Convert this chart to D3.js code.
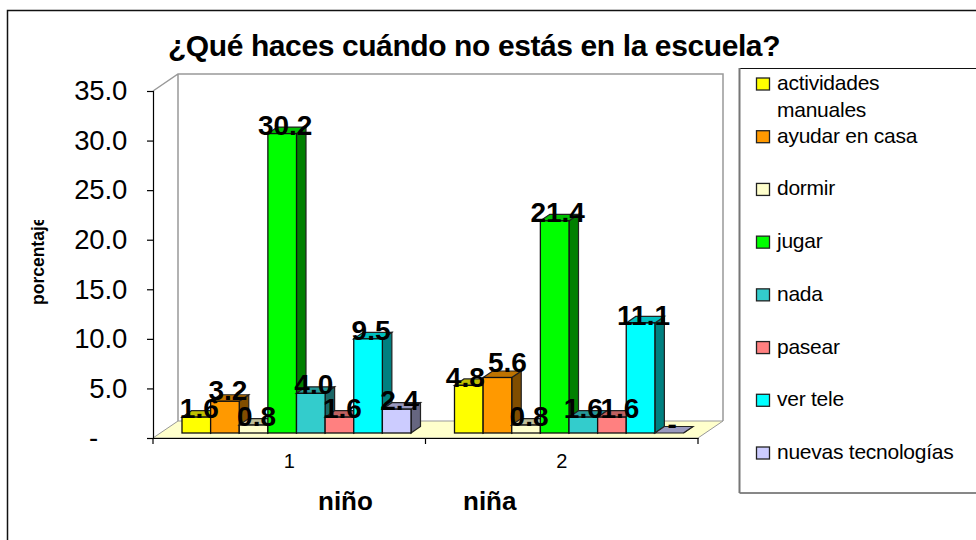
<!DOCTYPE html>
<html>
<head>
<meta charset="utf-8">
<script src="https://cdn.jsdelivr.net/npm/d3@7"></script>
<style>
  html, body { margin: 0; padding: 0; background: #fff; overflow: hidden; }
  text { font-family: "Liberation Sans", Arial, sans-serif; fill: #000; }
</style>
</head>
<body>
<div id="chart"></div>
<script>
const categories = ["actividades manuales", "ayudar en casa", "dormir", "jugar", "nada", "pasear", "ver tele", "nuevas tecnologías"];
const groups = ["1", "2"];
const ninoValues = [1.6, 3.2, 0.8, 30.2, 4.0, 1.6, 9.5, 2.4];
const ninaValues = [4.8, 5.6, 0.8, 21.4, 1.6, 1.6, 11.1, 0];
const colors = ["#ffff00", "#ff9900", "#ffffcc", "#00ff00", "#33cccc", "#ff8080", "#00ffff", "#ccccff"];
const yTicks = [0, 5, 10, 15, 20, 25, 30, 35];

const width = 976, height = 540;
const svg = d3.select("#chart").append("svg").attr("width", width).attr("height", height);

// outer frame, runs off the right and bottom of the page
svg.append("path").attr("d", "M7.5,540V10.5H976").attr("fill", "none").attr("stroke", "#111").attr("stroke-width", 1.5);

svg.append("text").attr("x", 474).attr("y", 56).attr("text-anchor", "middle")
  .style("font-size", "30px").style("font-weight", "bold").style("letter-spacing", "-0.4px")
  .text("¿Qué haces cuándo no estás en la escuela?");

const y = d3.scaleLinear().domain([0, 35]).range([438, 91]);
const x0 = d3.scaleBand().domain(groups).range([153, 698]);
const x1 = d3.scaleBand().domain(categories).range([29, 258]);

const wallDx = 25, wallDy = -17;   // depth of the chart box
const barDx = 9.5, barDy = -6.5;   // depth of a single bar
const barLift = 5;                 // bars stand a little behind the front edge

// floor and back walls
const axisLeftX = x0.range()[0], axisRightX = x0.range()[1], baseY = y(0), topY = y(35);
svg.append("polygon")
  .attr("points", [[axisLeftX, baseY], [axisRightX, baseY], [axisRightX + wallDx, baseY + wallDy], [axisLeftX + wallDx, baseY + wallDy]].join(" "))
  .attr("fill", "#ffffcc").attr("stroke", "#999").attr("stroke-width", 1);
svg.append("path")
  .attr("d", `M${axisLeftX},${topY}L${axisLeftX + wallDx},${topY + wallDy}H${axisRightX + wallDx}V${baseY + wallDy}M${axisLeftX + wallDx},${topY + wallDy}V${baseY + wallDy}`)
  .attr("fill", "none").attr("stroke", "#999").attr("stroke-width", 1.5);

// y axis
const yAxis = svg.append("g").attr("transform", `translate(${axisLeftX},0)`)
  .call(d3.axisLeft(y).tickValues(yTicks).tickSize(6).tickPadding(20)
    .tickFormat(d => d === 0 ? "-" : d.toFixed(1)));
yAxis.selectAll("text").style("font-size", "27.5px").style("letter-spacing", "-0.2px")
  .attr("dx", d => d === 0 ? -29 : 0);
yAxis.selectAll("line, path").attr("stroke", "#000").attr("stroke-width", 1.2);

// x axis with ticks on the group edges
const xAxis = svg.append("g").attr("transform", `translate(0,${baseY})`)
  .call(d3.axisBottom(x0).tickSize(0).tickPadding(16));
xAxis.select("path").attr("stroke", "#000").attr("stroke-width", 1.2);
xAxis.selectAll("text").style("font-size", "20px");
svg.append("g").selectAll("line").data([axisLeftX, x0("2"), axisRightX]).join("line")
  .attr("x1", d => d).attr("x2", d => d).attr("y1", baseY).attr("y2", baseY + 6)
  .attr("stroke", "#000").attr("stroke-width", 1.2);

// 3D column: side, top, then front
function drawBar(g, group, value, i) {
  const xa = x0(group) + x1(categories[i]);
  const xb = xa + x1.bandwidth();
  const yb = y(0) - barLift;
  const yt = y(value) - barLift;
  const col = d3.color(colors[i]);
  const line = pts => pts.join(" ");
  g.append("polygon")
    .attr("points", line([[xb, yb], [xb + barDx, yb + barDy], [xb + barDx, yt + barDy], [xb, yt]]))
    .attr("fill", d3.rgb(col.r * 0.5, col.g * 0.5, col.b * 0.5)).attr("stroke", "#222").attr("stroke-width", 1.2);
  g.append("polygon")
    .attr("points", line([[xa, yt], [xa + barDx, yt + barDy], [xb + barDx, yt + barDy], [xb, yt]]))
    .attr("fill", d3.rgb(col.r * 0.75, col.g * 0.75, col.b * 0.75)).attr("stroke", "#222").attr("stroke-width", 1.2);
  g.append("rect")
    .attr("x", xa).attr("y", yt).attr("width", xb - xa).attr("height", yb - yt)
    .attr("fill", colors[i]).attr("stroke", "#111").attr("stroke-width", 1.3);
}

const seriesByGroup = [ninoValues, ninaValues];
const bars = svg.append("g");
groups.forEach((g, k) => seriesByGroup[k].forEach((v, i) => drawBar(bars, g, v, i)));

// hand-placed labels that would otherwise collide: group|series -> [dx, dy]
const labelNudge = {
  "0|1": [0, -2],
  "1|0": [-6.5, 1],
  "1|1": [7, -6],
  "1|4": [-3, 0],
  "1|5": [5, 0],
  "1|6": [0, 1]
};

// value labels go on top of every bar
const labels = svg.append("g");
groups.forEach((g, k) => seriesByGroup[k].forEach((v, i) => {
  const [dx, dy] = labelNudge[k + "|" + i] || [0, 0];
  labels.append("text")
    .attr("x", x0(g) + x1(categories[i]) + x1.bandwidth() / 2 + 3 + dx)
    .attr("y", y(v) - barLift + 1 + dy)
    .attr("text-anchor", "middle")
    .style("font-size", "28px").style("font-weight", "bold")
    .text(v === 0 ? "-" : v.toFixed(1));
}));

// y axis title, cut off by its box
svg.append("clipPath").attr("id", "ytitle-clip").append("rect")
  .attr("x", 20).attr("y", 220).attr("width", 40).attr("height", 100);
svg.append("g").attr("clip-path", "url(#ytitle-clip)")
  .append("text").attr("transform", "translate(43.5,305) rotate(-90)")
  .style("font-size", "17.5px").style("font-weight", "bold")
  .text("porcentaje");

// group names under the axis
svg.append("text").attr("x", 318).attr("y", 510).style("font-size", "26px").style("font-weight", "bold").text("niño");
svg.append("text").attr("x", 463).attr("y", 510).style("font-size", "26px").style("font-weight", "bold").text("niña");

// legend
svg.append("path").attr("d", "M976,68.5H739.5V493H976").attr("fill", "none").attr("stroke", "#111").attr("stroke-width", 1);
svg.append("line").attr("x1", 739.5).attr("x2", 739.5).attr("y1", 68).attr("y2", 493).attr("stroke", "#777").attr("stroke-width", 2);
const legendY = d3.scalePoint().domain(categories).range([84, 453]);
const legend = svg.append("g").selectAll("g").data(categories).join("g")
  .attr("transform", d => `translate(0,${legendY(d)})`);
legend.append("rect").attr("x", 756.5).attr("y", -6).attr("width", 13).attr("height", 12)
  .attr("fill", (d, i) => colors[i]).attr("stroke", "#222").attr("stroke-width", 1.3);
legend.append("text").attr("x", 777).attr("y", 6)
  .style("font-size", "21px").style("letter-spacing", "-0.25px")
  .each(function(d) {
    const words = d === "actividades manuales" ? d.split(" ") : [d];
    d3.select(this).selectAll("tspan").data(words).join("tspan")
      .attr("x", 777).attr("dy", (w, j) => j ? 26.5 : 0).text(w => w);
  });
</script>
</body>
</html>
